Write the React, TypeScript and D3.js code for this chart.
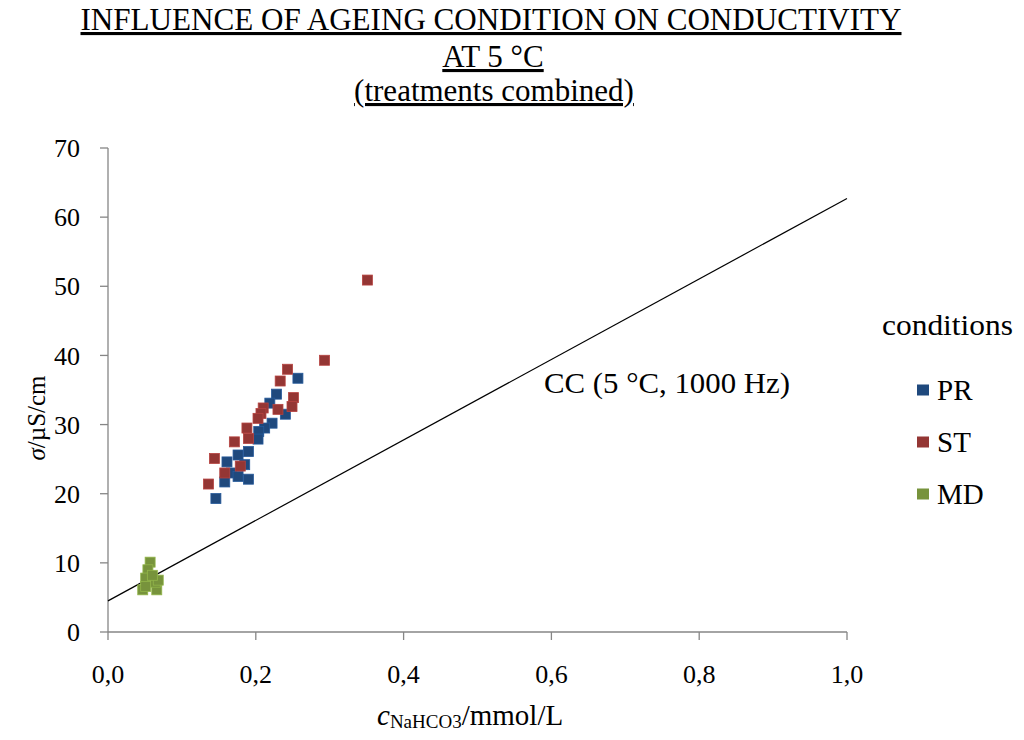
import * as d3 from 'd3';

// Data
const prX = [0.257, 0.228, 0.219, 0.240, 0.222, 0.212, 0.204, 0.203, 0.190, 0.176, 0.161, 0.185, 0.167, 0.190, 0.158, 0.146, 0.176];
const prY = [36.7, 34.4, 33.1, 31.5, 30.2, 29.5, 29.0, 27.9, 26.1, 25.6, 24.6, 24.2, 23.0, 22.1, 21.7, 19.3, 22.5];

const stX = [0.351, 0.293, 0.243, 0.233, 0.251, 0.249, 0.230, 0.210, 0.207, 0.203, 0.188, 0.190, 0.171, 0.144, 0.179, 0.158, 0.136];
const stY = [50.9, 39.3, 38.0, 36.3, 33.9, 32.6, 32.2, 32.4, 31.6, 30.9, 29.5, 28.0, 27.5, 25.1, 24.0, 23.0, 21.4];

const mdX = [0.057, 0.054, 0.051, 0.047, 0.066, 0.064, 0.051, 0.068, 0.060];
const mdY = [10.1, 9.0, 7.8, 6.1, 6.1, 7.2, 6.6, 7.5, 8.2];

// calibration curve CC (5 °C, 1000 Hz): end points
const ccX = [0, 1.0];
const ccY = [4.5, 62.7];

const xTicks = [0, 0.2, 0.4, 0.6, 0.8, 1.0];
const yTicks = [0, 10, 20, 30, 40, 50, 60, 70];

const seriesNames = ['PR', 'ST', 'MD'];
const seriesColors = ['#1f497d', '#943634', '#77933c'];

const FONT = "'Liberation Serif', 'Times New Roman', serif";

export default function App() {
  const width = 1024;
  const height = 740;
  const margin = { left: 108, right: 177, top: 148, bottom: 108 };

  const x = d3.scaleLinear().domain([0, 1]).range([margin.left, width - margin.right]);
  const y = d3.scaleLinear().domain([0, 70]).range([height - margin.bottom, margin.top]);

  const series = [
    { name: seriesNames[0], xs: prX, ys: prY, color: seriesColors[0] },
    { name: seriesNames[1], xs: stX, ys: stY, color: seriesColors[1] },
    { name: seriesNames[2], xs: mdX, ys: mdY, color: seriesColors[2] },
  ];

  const line = d3
    .line<number>()
    .x(d => x(ccX[d]))
    .y(d => y(ccY[d]));

  const axisColor = '#868686';
  const ms = 10;
  const txt = { fontFamily: FONT, fill: '#000' };

  return (
    <svg
      width={width}
      height={height}
      style={{ position: 'absolute', left: 0, top: 0, background: '#fff', fontFamily: FONT }}
    >
      {/* Title */}
      <g textAnchor="middle" fontSize={31} style={{ ...txt, textDecoration: 'underline' }}>
        <text x={491} y={30} textLength={821} lengthAdjust="spacingAndGlyphs">
          INFLUENCE OF AGEING CONDITION ON CONDUCTIVITY
        </text>
        <text x={493} y={67}>AT 5 °C</text>
        <text x={494} y={101}>(treatments combined)</text>
      </g>

      {/* Axes */}
      <g stroke={axisColor} strokeWidth={1.3}>
        <line x1={x(0)} x2={x(0)} y1={y(0)} y2={y(70)} />
        <line x1={x(0)} x2={x(1)} y1={y(0)} y2={y(0)} />
        {yTicks.map(t => (
          <line key={'yt' + t} x1={x(0) - 8} x2={x(0)} y1={y(t)} y2={y(t)} />
        ))}
        {xTicks.map(t => (
          <line key={'xt' + t} x1={x(t)} x2={x(t)} y1={y(0)} y2={y(0) + 8} />
        ))}
      </g>

      <g fontSize={26} style={txt}>
        {yTicks.map(t => (
          <text key={'yl' + t} x={x(0) - 28} y={y(t)} dy="0.35em" textAnchor="end">
            {t}
          </text>
        ))}
        {xTicks.map(t => (
          <text key={'xl' + t} x={x(t)} y={y(0) + 51} textAnchor="middle">
            {t.toFixed(1).replace('.', ',')}
          </text>
        ))}
      </g>

      {/* Axis titles */}
      <text x={377} y={725} fontSize={29} style={txt}>
        <tspan fontStyle="italic">c</tspan>
        <tspan fontSize={19} dy={3}>NaHCO3</tspan>
        <tspan dy={-3}>/mmol/L</tspan>
      </text>
      <text transform={`translate(45, ${418}) rotate(-90)`} textAnchor="middle" fontSize={25} style={txt}>
        <tspan fontStyle="italic">σ</tspan>/µS/cm
      </text>

      {/* Calibration line */}
      <path d={line([0, 1]) || ''} fill="none" stroke="#000" strokeWidth={1.2} />
      <text x={544} y={393} fontSize={29} textLength={246} lengthAdjust="spacingAndGlyphs" style={txt}>
        CC (5 °C, 1000 Hz)
      </text>

      {/* Points */}
      {series.map(s => (
        <g key={s.name} fill={s.color} stroke={d3.color(s.color)?.brighter(0.6).toString()} strokeWidth={0.8}>
          {s.xs.map((xv, i) => (
            <rect key={i} x={x(xv) - ms / 2} y={y(s.ys[i]) - ms / 2} width={ms} height={ms} />
          ))}
        </g>
      ))}

      {/* Legend */}
      <text x={882} y={335} fontSize={30} textLength={131} lengthAdjust="spacingAndGlyphs" style={txt}>
        conditions
      </text>
      {series.map((s, i) => (
        <g key={'lg' + s.name} transform={`translate(917, ${390 + i * 52})`}>
          <rect x={0} y={-5.5} width={12} height={11} fill={s.color} />
          <text x={20} y={10} fontSize={29} style={txt}>
            {s.name}
          </text>
        </g>
      ))}
    </svg>
  );
}
